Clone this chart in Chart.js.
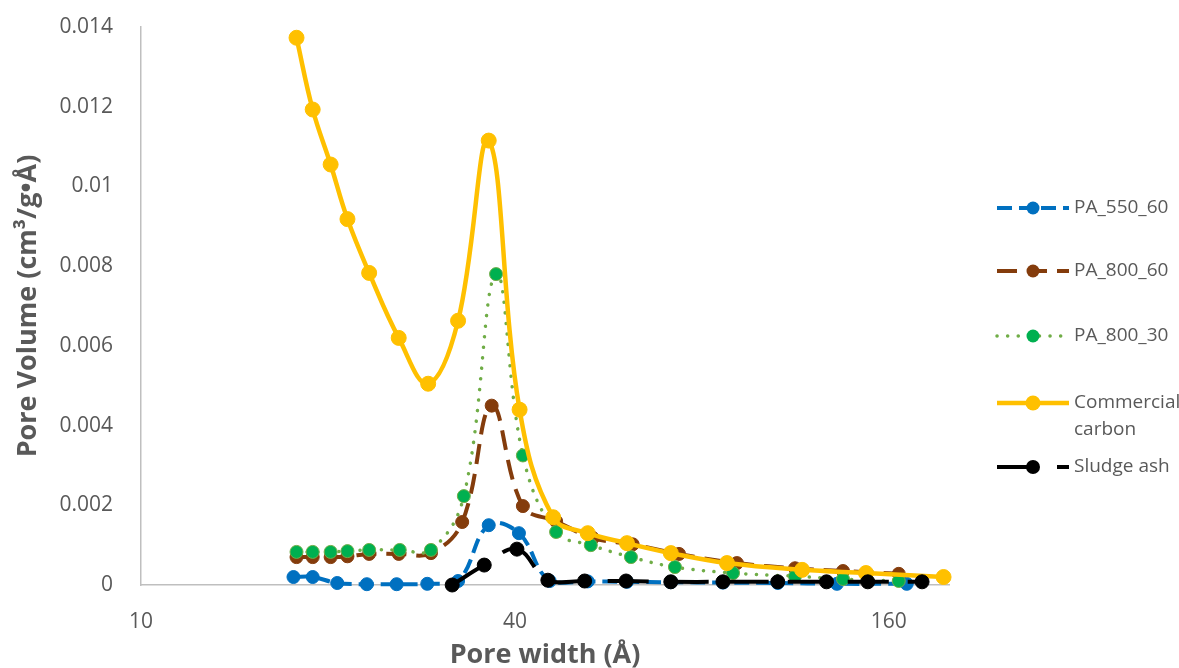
<!DOCTYPE html>
<html>
<head>
<meta charset="utf-8">
<script src="https://cdn.jsdelivr.net/npm/chart.js@4/dist/chart.umd.min.js"></script>
<style>
  html, body { margin: 0; padding: 0; background: #fff; }
  #chart { display: block; }
</style>
</head>
<body>
<canvas id="chart" width="1179" height="668"></canvas>
<script>
// series names (legend order)
const seriesNames = ["PA_550_60", "PA_800_60", "PA_800_30", "Commercial carbon", "Sludge ash"];

// pore width (Å) and pore volume (cm3/g·Å)
const pa550X = [17.6, 18.9, 20.7, 23.1, 25.8, 28.9, 32.4, 36.3, 40.6, 45.5, 52.4, 60.6, 71.3, 86.5, 106, 132, 171];
const pa550Y = [0.0002, 0.0002, 0.00005, 0.00002, 0.00002, 0.00003, 0.0001, 0.0015, 0.0013, 0.0001, 0.00009, 0.00008, 0.00007, 0.00006, 0.00005, 0.00003, 0.00003];

const pa860X = [17.8, 18.9, 20.2, 21.5, 23.3, 26.0, 29.3, 32.9, 36.7, 41.2, 46.6, 53.4, 61.9, 73.5, 91.1, 113, 135, 166];
const pa860Y = [0.0007, 0.0007, 0.0007, 0.00072, 0.00078, 0.00078, 0.0008, 0.00158, 0.0045, 0.00198, 0.0016, 0.00118, 0.00102, 0.00078, 0.00055, 0.00042, 0.00035, 0.00028];

const pa830X = [17.8, 18.9, 20.2, 21.5, 23.3, 26.1, 29.3, 33.1, 37.3, 41.2, 46.6, 53.0, 61.5, 72.4, 89.8, 113, 135, 166];
const pa830Y = [0.00083, 0.00083, 0.00083, 0.00085, 0.00088, 0.00088, 0.00088, 0.00223, 0.0078, 0.00325, 0.00133, 0.001, 0.0007, 0.00045, 0.0003, 0.00022, 0.00015, 0.0001];

const ccX = [17.8, 18.9, 20.2, 21.5, 23.3, 26.0, 29.0, 32.4, 36.3, 40.7, 46.1, 52.4, 60.6, 71.3, 87.8, 116, 147, 196];
const ccY = [0.01373, 0.01193, 0.01055, 0.00918, 0.00783, 0.0062, 0.00505, 0.00663, 0.01115, 0.0044, 0.0017, 0.0013, 0.00105, 0.0008, 0.00055, 0.00038, 0.0003, 0.0002];

const ashX = [31.7, 35.7, 40.3, 45.2, 51.8, 60.4, 71.3, 86.5, 106, 127, 148, 181];
const ashY = [0, 0.0005, 0.0009, 0.00012, 0.0001, 0.0001, 0.00008, 0.00008, 0.00008, 0.00008, 0.00008, 0.00008];

// axis ticks
const xTicks = [10, 40, 160];
const yMax = 0.014;
const yStep = 0.002;

function pts(xs, ys) {
  return xs.map((x, i) => ({ x: x, y: ys[i] }));
}

const grey = "#595959";
Chart.defaults.font.family = "'Open Sans', 'DejaVu Sans', sans-serif";
Chart.defaults.color = grey;

// draws the legend on the right, line sample + marker like Excel
const sideLegend = {
  id: "sideLegend",
  afterDraw(chart) {
    const ctx = chart.ctx;
    const rows = [208, 271, 336, 403, 467];
    const x0 = 997, x1 = 1069, tx = 1074, maxW = 1179 - tx;
    ctx.save();
    ctx.font = "19px 'Open Sans', sans-serif";
    ctx.textBaseline = "middle";
    ctx.textAlign = "left";
    chart.data.datasets.forEach((ds, i) => {
      const y = rows[i];
      ctx.strokeStyle = ds.borderColor;
      ctx.lineWidth = ds.borderWidth;
      ctx.lineCap = ds.borderCapStyle || "butt";
      ctx.setLineDash(ds.borderDash || []);
      ctx.beginPath();
      ctx.moveTo(x0, y);
      ctx.lineTo(x1, y);
      ctx.stroke();
      ctx.setLineDash([]);
      ctx.beginPath();
      ctx.arc((x0 + x1) / 2, y, ds.pointRadius, 0, Math.PI * 2);
      ctx.fillStyle = ds.pointBackgroundColor;
      ctx.fill();
      // word wrap
      const words = ds.label.split(" ");
      const lines = [];
      let cur = "";
      words.forEach(w => {
        const t = cur ? cur + " " + w : w;
        if (ctx.measureText(t).width > maxW && cur) {
          lines.push(cur);
          cur = w;
        } else {
          cur = t;
        }
      });
      lines.push(cur);
      ctx.fillStyle = grey;
      lines.forEach((l, k) => ctx.fillText(l, tx, y + k * 27));
    });
    ctx.restore();
  }
};

new Chart(document.getElementById("chart"), {
  type: "line",
  data: {
    datasets: [
      {
        label: seriesNames[0],
        data: pts(pa550X, pa550Y),
        borderColor: "#0070C0",
        borderWidth: 4,
        borderDash: [15, 7],
        pointRadius: 6.5,
        pointBackgroundColor: "#0070C0",
        pointBorderColor: "#0070C0",
        pointBorderWidth: 1,
        order: 5
      },
      {
        label: seriesNames[1],
        data: pts(pa860X, pa860Y),
        borderColor: "#843C0C",
        borderWidth: 4,
        borderDash: [20, 10],
        pointRadius: 6.5,
        pointBackgroundColor: "#843C0C",
        pointBorderColor: "#843C0C",
        pointBorderWidth: 1,
        order: 4
      },
      {
        label: seriesNames[2],
        data: pts(pa830X, pa830Y),
        borderColor: "#70AD47",
        borderWidth: 3.5,
        borderDash: [0.1, 10.5],
        borderCapStyle: "round",
        pointRadius: 6.5,
        pointBackgroundColor: "#00B050",
        pointBorderColor: "#70AD47",
        pointBorderWidth: 1,
        order: 3
      },
      {
        label: seriesNames[3],
        data: pts(ccX, ccY),
        borderColor: "#FFC000",
        borderWidth: 4.5,
        pointRadius: 7.5,
        pointBackgroundColor: "#FFC000",
        pointBorderColor: "#FFC000",
        pointBorderWidth: 1,
        order: 2
      },
      {
        label: seriesNames[4],
        data: pts(ashX, ashY),
        borderColor: "#000000",
        borderWidth: 4,
        borderDash: [41, 19],
        pointRadius: 7,
        pointBackgroundColor: "#000000",
        pointBorderColor: "#000000",
        pointBorderWidth: 1,
        order: 1
      }
    ]
  },
  options: {
    responsive: false,
    animation: false,
    clip: false,
    elements: { line: { tension: 0.4 } },
    layout: { padding: { left: 0, right: 230, top: 27, bottom: 0 } },
    plugins: {
      legend: { display: false },
      tooltip: { enabled: false }
    },
    scales: {
      x: {
        type: "logarithmic",
        min: 10,
        max: 200,
        afterBuildTicks: s => { s.ticks = xTicks.map(v => ({ value: v })); },
        afterFit: s => { s.height = 83; s.paddingLeft = 0; s.paddingRight = 0; },
        grid: { display: false, drawTicks: false },
        border: { display: true, color: "#BFBFBF", width: 1.5 },
        ticks: {
          padding: 24,
          color: grey,
          font: { size: 21 },
          autoSkip: false,
          maxRotation: 0,
          callback: v => String(v)
        },
        title: {
          display: true,
          text: "Pore width (Å)",
          color: grey,
          font: { size: 27, weight: "bold" },
          padding: { top: 0, bottom: -4 }
        }
      },
      y: {
        min: 0,
        max: yMax,
        afterFit: s => { s.width = 141; s.paddingTop = 0; s.paddingBottom = 0; },
        grid: { display: false, drawTicks: false },
        border: { display: true, color: "#BFBFBF", width: 1.5 },
        ticks: {
          stepSize: yStep,
          padding: 28,
          color: grey,
          font: { size: 21 },
          callback: v => String(+v.toFixed(3))
        },
        title: {
          display: true,
          text: "Pore Volume (cm³/g•Å)",
          color: grey,
          font: { size: 27, weight: "bold" },
          padding: { top: 12, bottom: 0 }
        }
      }
    }
  },
  plugins: [sideLegend]
});
</script>
</body>
</html>
